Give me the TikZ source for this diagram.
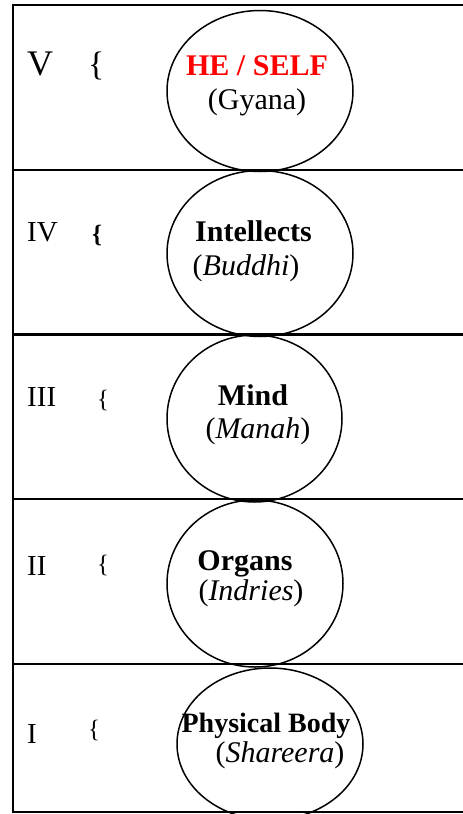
\documentclass[tikz,border=0pt]{standalone}
\usepackage{fontspec}
\setmainfont{Liberation Serif}
\usetikzlibrary{shapes.geometric}
\begin{document}
\begin{tikzpicture}[x=1pt,y=-1pt,
  rule/.style={line width=2.2pt},
  ring/.style={draw, ellipse, line width=1.5pt, inner sep=0pt},
  num/.style={anchor=base west, inner sep=0pt, font=\fontsize{29}{29}\selectfont},
  brace/.style={anchor=base west, inner sep=0pt, font=\fontsize{25}{25}\selectfont},
  head/.style={anchor=base, inner sep=0pt, font=\fontsize{30}{30}\selectfont\bfseries},
  sub/.style={anchor=base, inner sep=0pt, font=\fontsize{30}{30}\selectfont}]
\useasboundingbox (0,0) rectangle (463,814);
\clip (0,0) rectangle (463,814);
% table rules
\draw[rule] (13,5) -- (463,5);
\draw[rule] (13,170) -- (463,170);
\draw[rule] (13,334.5) -- (463,334.5);
\draw[rule] (13,499) -- (463,499);
\draw[rule] (13,664) -- (463,664);
\draw[rule] (13,812) -- (463,812);
\draw[rule] (13,3.9) -- (13,813.1);
% ellipses
\node[ring, minimum width=186pt, minimum height=161pt] (e5) at (260,91) {};
\node[ring, minimum width=186pt, minimum height=166pt] (e4) at (260,253.5) {};
\node[ring, minimum width=175pt, minimum height=167pt] (e3) at (254.5,418.5) {};
\node[ring, minimum width=176pt, minimum height=167pt] (e2) at (255,583.5) {};
\node[ring, minimum width=186pt, minimum height=152pt] (e1) at (270,744) {};
% numerals and braces
\node[num, font=\fontsize{36}{36}\selectfont] (n5) at (27,75) {V};
\node[brace, font=\fontsize{34}{34}\selectfont] (b5) at (88,75.8) {\{};
\node[num] (n4) at (27,241) {IV};
\node[brace, font=\fontsize{25}{25}\selectfont\bfseries] (b4) at (92,242.5) {\{};
\node[num] (n3) at (27,406) {III};
\node[brace] (b3) at (97,407.5) {\{};
\node[num] (n2) at (27,575) {II};
\node[brace] (b2) at (97,572.5) {\{};
\node[num] (n1) at (27,743) {I};
\node[brace] (b1) at (88,737) {\{};
% labels
\node[head, text=red] (t5) at (257,75) {HE / SELF};
\node[sub] (s5) at (257,109) {(Gyana)};
\node[head] (t4) at (253.5,241) {Intellects};
\node[sub] (s4) at (246,275) {(\textit{Buddhi})};
\node[head] (t3) at (253,405) {Mind};
\node[sub] (s3) at (258,438) {(\textit{Manah})};
\node[head] (t2) at (245,570) {Organs};
\node[sub] (s2) at (251,600) {(\textit{Indries})};
\node[head, font=\fontsize{28}{28}\selectfont\bfseries] (t1) at (266,732) {Physical Body};
\node[sub] (s1) at (280,762) {(\textit{Shareera})};
\end{tikzpicture}
\end{document}
